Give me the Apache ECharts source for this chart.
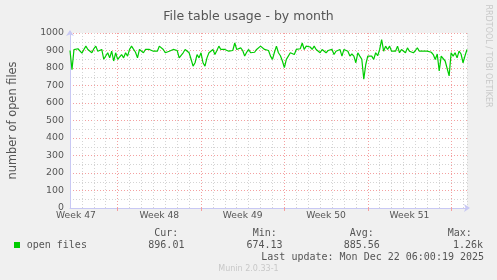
<!DOCTYPE html>
<html>
<head>
<meta charset="utf-8">
<script src="https://cdn.jsdelivr.net/npm/echarts@6/dist/echarts.min.js"></script>
<style>
html,body{margin:0;padding:0;background:#f0f0f0;}
#c{width:497px;height:280px;}
</style>
</head>
<body>
<div id="c"></div>
<script>
// open files, one sample every 4 hours over the month window
const openFiles = [
900,790,905,905,910,900,885,906,925,906,
906,887,910,925,896,887,906,850,858,887,
858,896,840,887,849,840,877,858,887,868,
906,925,915,890,858,906,896,887,906,896,
906,915,896,906,896,925,934,906,887,887,
896,896,906,915,900,858,849,887,906,896,
887,850,811,830,877,858,887,830,811,858,
887,877,906,877,900,925,906,896,906,915,
896,906,900,943,906,896,915,900,868,890,
906,887,896,890,906,915,925,934,906,915,
900,868,849,890,925,887,870,840,802,849,
858,887,896,877,906,906,910,943,906,925,
915,920,906,925,906,915,887,906,896,887,
900,906,906,877,896,896,906,868,906,896,
896,868,880,868,830,887,868,850,736,820,
868,858,868,849,887,870,906,962,896,925,
906,925,896,906,896,925,887,906,906,887,
915,896,906,887,900,915,896,887,896,906,
896,900,890,877,849,880,783,868,877,840,
850,755,887,868,887,858,896,880,830,870,
906
];
const sampleHours = 4;
const windowHours = 800;
const weekBoundaries = [96, 264, 432, 600, 768];
const weekLabelPos = [12, 180, 348, 516, 684];
const weekLabels = ['Week 47', 'Week 48', 'Week 49', 'Week 50', 'Week 51'];
const yTicks = [0,100,200,300,400,500,600,700,800,900,1000];
const seriesName = 'open files';
const statHeaders = ['Cur:', 'Min:', 'Avg:', 'Max:'];
const statValues = ['896.01', '674.13', '885.56', '1.26k'];
const lastUpdate = 'Last update: Mon Dec 22 06:00:19 2025';

const seriesData = openFiles.map((v, i) => [i * sampleHours, v]);
const labelMap = {};
weekLabelPos.forEach((p, i) => { labelMap[p] = weekLabels[i]; });

const GREEN = '#00cc00';
const MAJOR = '#f4a0a0';
const MINOR = '#d4d4d4';
const AXIS = '#c8c8f4';
const TXT = '#555555';
const MONO = '"DejaVu Sans Mono", monospace';
const SANS = '"DejaVu Sans", sans-serif';

const chart = echarts.init(document.getElementById('c'), null, {renderer: 'canvas'});

const hdrX = [154.3, 252.7, 349.7, 447.7];
const valX = [148.3, 246.5, 343.7, 453];

const graphics = [
  {type:'rect', shape:{x:14, y:242, width:6, height:6}, style:{fill:GREEN}},
  {type:'text', x:26.7, y:245.7, style:{text:seriesName, font:'10px ' + MONO, fill:TXT, textVerticalAlign:'middle'}},
  {type:'text', x:261.3, y:257.5, style:{text:lastUpdate, font:'10px ' + MONO, fill:TXT, textVerticalAlign:'middle'}},
  {type:'text', x:248.5, y:269, style:{text:'Munin 2.0.33-1', font:'8px ' + SANS, fill:'#c8c8c8', textAlign:'center', textVerticalAlign:'middle'}},
  {type:'text', x:488.5, y:56, rotation:-Math.PI/2, style:{text:'RRDTOOL / TOBI OETIKER', font:'8px ' + SANS, fill:'#c8c8c8', textAlign:'center', textVerticalAlign:'middle'}}
];
statHeaders.forEach((h, i) => {
  graphics.push({type:'text', x:hdrX[i], y:233.5, style:{text:h, font:'10px ' + MONO, fill:TXT, textVerticalAlign:'middle'}});
  graphics.push({type:'text', x:valX[i], y:245.7, style:{text:statValues[i], font:'10px ' + MONO, fill:TXT, textVerticalAlign:'middle'}});
});

chart.setOption({
  backgroundColor: '#f0f0f0',
  animation: false,
  title: {
    text: 'File table usage - by month',
    left: 'center',
    top: 5,
    textStyle: {fontFamily: SANS, fontSize: 12.5, fontWeight: 'normal', color: TXT}
  },
  grid: {left: 67, right: 30, top: 33, bottom: 72, show: true, backgroundColor: '#ffffff', borderWidth: 0},
  xAxis: [
    {
      type: 'value', min: 0, max: windowHours, interval: 24, position: 'bottom',
      axisLine: {show: false}, axisTick: {show: false}, axisLabel: {show: false},
      splitLine: {show: true, lineStyle: {color: MINOR, type: [1, 2], width: 1}}
    },
    {
      type: 'value', min: 0, max: windowHours, position: 'bottom',
      axisLine: {show: true, onZero: false, lineStyle: {color: AXIS, width: 1}, symbol: ['none', 'arrow'], symbolSize: [6, 6], symbolOffset: [0, 3]},
      axisTick: {show: true, customValues: weekBoundaries, length: 3, inside: false, lineStyle: {color: MAJOR}},
      axisLabel: {
        show: true, customValues: weekLabelPos, margin: 3,
        fontFamily: SANS, fontSize: 9.2, color: TXT,
        formatter: v => labelMap[v] || ''
      },
      splitLine: {show: true, lineStyle: {color: MAJOR, type: [1, 2], width: 1}}
    }
  ],
  yAxis: {
    type: 'value', min: 0, max: 1000, interval: 100,
    name: 'number of open files', nameLocation: 'middle', nameGap: 51,
    nameTextStyle: {fontFamily: SANS, fontSize: 11.4, color: TXT},
    axisLine: {show: true, lineStyle: {color: AXIS, width: 1}, symbol: ['none', 'arrow'], symbolSize: [6, 6], symbolOffset: [0, 3]},
    axisTick: {show: false},
    axisLabel: {margin: 6, fontFamily: SANS, fontSize: 9.4, color: TXT, customValues: yTicks, formatter: v => String(v)},
    minorTick: {show: false, splitNumber: 2},
    minorSplitLine: {show: true, lineStyle: {color: MINOR, type: [1, 2], width: 1}},
    splitLine: {show: true, lineStyle: {color: MAJOR, type: [1, 2], width: 1}}
  },
  series: [{
    name: seriesName,
    type: 'line',
    xAxisIndex: 1,
    data: seriesData,
    showSymbol: false,
    lineStyle: {color: GREEN, width: 1.2},
    z: 10
  }],
  graphic: graphics
});
</script>
</body>
</html>
